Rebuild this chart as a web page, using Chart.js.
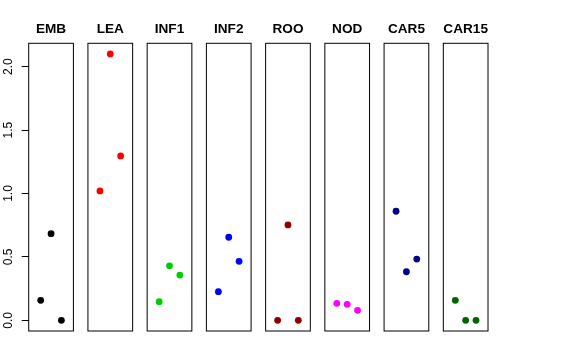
<!DOCTYPE html>
<html><head><meta charset="utf-8">
<script src="https://cdn.jsdelivr.net/npm/chart.js@4.4.0/dist/chart.umd.min.js"></script>
<style>
html,body{margin:0;padding:0;background:#fff;}
#wrap{position:relative;width:576px;height:360px;background:#fff;}
#wrap canvas{position:absolute;left:0;top:0;}
</style></head><body><div id="wrap"></div>
<script>
// ---- data ----
const categories = ["EMB","LEA","INF1","INF2","ROO","NOD","CAR5","CAR15"];
const colors = ["#000000","#FF0000","#00CD00","#0000FF","#8B0000","#FF00FF","#00008B","#006400"];
const xPositions = [1, 2, 3];
const EMB   = [0.158, 0.683, 0.000];
const LEA   = [1.020, 2.100, 1.296];
const INF1  = [0.147, 0.430, 0.357];
const INF2  = [0.226, 0.655, 0.465];
const ROO   = [0.000, 0.752, 0.000];
const NOD   = [0.134, 0.126, 0.079];
const CAR5  = [0.860, 0.383, 0.483];
const CAR15 = [0.158, 0.000, 0.000];
const seriesValues = [EMB, LEA, INF1, INF2, ROO, NOD, CAR5, CAR15];
const yTicks = [0, 0.5, 1.0, 1.5, 2.0];
const yTickLabels = ["0.0", "0.5", "1.0", "1.5", "2.0"];

// ---- layout ----
const W = 576, H = 360;
const firstLeft = 28.7, pitch = 59.23, panelW = 44.7;
const plotTop = 43.3, plotBottom = 331;
const yMin = -0.084, yMax = 2.184;
const xMin = -0.16, xMax = 4.16;
const titleSize = 13.6;

const boxPlugin = {
  id: 'panelBox',
  afterDatasetsDraw(chart) {
    const a = chart.chartArea, ctx = chart.ctx;
    ctx.save();
    ctx.strokeStyle = '#000';
    ctx.lineWidth = 1;
    ctx.strokeRect(a.left, a.top, a.right - a.left, a.bottom - a.top);
    ctx.restore();
  }
};

const wrap = document.getElementById('wrap');
categories.forEach((name, i) => {
  const cv = document.createElement('canvas');
  cv.width = W; cv.height = H;
  cv.style.width = W + 'px'; cv.style.height = H + 'px';
  wrap.appendChild(cv);
  const left = firstLeft + pitch * i;
  const showAxis = i === 0;
  const yScale = {
    type: 'linear',
    display: showAxis,
    position: 'left',
    min: yMin, max: yMax,
    afterBuildTicks: (s) => { s.ticks = yTicks.map(v => ({value: v})); },
    grid: {display: true, drawOnChartArea: false, drawTicks: true, tickLength: 7, color: '#000', lineWidth: 1},
    border: {display: false},
    ticks: {
      minRotation: 90, maxRotation: 90,
      crossAlign: 'center',
      padding: 5,
      color: '#000',
      font: {family: 'Liberation Sans, Arial, sans-serif', size: 12},
      callback: (v) => { const k = yTicks.indexOf(v); return k >= 0 ? yTickLabels[k] : ''; }
    }
  };
  if (showAxis) yScale.afterFit = (s) => { s.width = firstLeft; };
  const titleLine = titleSize * 1.2;
  const padTop = 29.5 - titleLine / 2;
  new Chart(cv, {
    type: 'scatter',
    data: {
      datasets: [{
        data: xPositions.map((x, j) => ({x: x, y: seriesValues[i][j]})),
        backgroundColor: colors[i],
        borderColor: colors[i],
        pointRadius: 3.4,
        pointBorderWidth: 0,
        pointHoverRadius: 3.4,
        showLine: false
      }]
    },
    options: {
      responsive: false,
      animation: false,
      devicePixelRatio: 1,
      events: [],
      layout: {padding: {left: showAxis ? 0 : left, right: W - (left + panelW), top: 0, bottom: H - plotBottom}},
      plugins: {
        legend: {display: false},
        tooltip: {enabled: false},
        title: {
          display: true,
          text: name,
          fullSize: false,
          color: '#000',
          font: {family: 'Liberation Sans, Arial, sans-serif', weight: 'bold', size: titleSize, lineHeight: 1.2},
          padding: {top: padTop, bottom: plotTop - padTop - titleLine}
        }
      },
      scales: {
        x: {type: 'linear', display: false, min: xMin, max: xMax},
        y: yScale
      }
    },
    plugins: [boxPlugin]
  });
});
</script></body></html>
